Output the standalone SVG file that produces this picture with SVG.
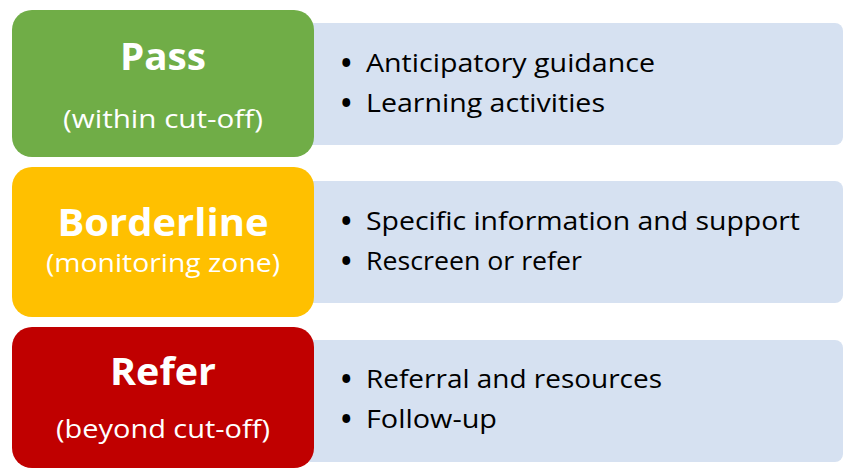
<svg xmlns="http://www.w3.org/2000/svg" width="843" height="470" viewBox="0 0 843 470">
<style>
.t{font-family:"Open Sans","Noto Sans","DejaVu Sans",sans-serif;fill:#fff;text-anchor:middle}
.h{font-weight:bold;font-size:38px}
.s{font-size:26px}
.b{font-family:"Open Sans","Noto Sans","DejaVu Sans",sans-serif;font-size:26px;fill:#000}
.d{font-weight:bold;font-size:28px}
.bl{fill:#D6E1F1}
</style>
<rect width="843" height="470" fill="#fff"/>
<g id="connectors"/>
<g id="pass-info">
<rect class="bl" x="300" y="23" width="543" height="122" rx="8"/>
<text class="b" x="341" y="73"><tspan class="d">•</tspan><tspan x="366" y="72" textLength="289" lengthAdjust="spacingAndGlyphs">Anticipatory guidance</tspan></text>
<text class="b" x="341" y="113"><tspan class="d">•</tspan><tspan x="366" y="112" textLength="239" lengthAdjust="spacingAndGlyphs">Learning activities</tspan></text>
</g>
<g id="borderline-info">
<rect class="bl" x="300" y="181" width="543" height="122" rx="8"/>
<text class="b" x="341" y="231"><tspan class="d">•</tspan><tspan x="366" y="230" textLength="434" lengthAdjust="spacingAndGlyphs">Specific information and support</tspan></text>
<text class="b" x="341" y="271"><tspan class="d">•</tspan><tspan x="366" y="270" textLength="216" lengthAdjust="spacingAndGlyphs">Rescreen or refer</tspan></text>
</g>
<g id="refer-info">
<rect class="bl" x="300" y="340" width="543" height="122" rx="8"/>
<text class="b" x="341" y="389"><tspan class="d">•</tspan><tspan x="366" y="388" textLength="296" lengthAdjust="spacingAndGlyphs">Referral and resources</tspan></text>
<text class="b" x="341" y="429"><tspan class="d">•</tspan><tspan x="366" y="428" textLength="131" lengthAdjust="spacingAndGlyphs">Follow-up</tspan></text>
</g>
<g id="pass">
<rect x="12" y="10" width="302" height="147" rx="20" fill="#70AD47"/>
<text class="t h" x="163" y="70" textLength="86" lengthAdjust="spacingAndGlyphs">Pass</text>
<text class="t s" x="163" y="128" textLength="200" lengthAdjust="spacingAndGlyphs">(within cut-off)</text>
</g>
<g id="borderline">
<rect x="12" y="167" width="302" height="150" rx="20" fill="#FFC000"/>
<text class="t h" x="163" y="236" textLength="211" lengthAdjust="spacingAndGlyphs">Borderline</text>
<text class="t s" x="163" y="272" textLength="234" lengthAdjust="spacingAndGlyphs">(monitoring zone)</text>
</g>
<g id="refer">
<rect x="12" y="327" width="302" height="141" rx="20" fill="#C00000"/>
<text class="t h" x="163" y="385" textLength="106" lengthAdjust="spacingAndGlyphs">Refer</text>
<text class="t s" x="163" y="438" textLength="214" lengthAdjust="spacingAndGlyphs">(beyond cut-off)</text>
</g>
</svg>
